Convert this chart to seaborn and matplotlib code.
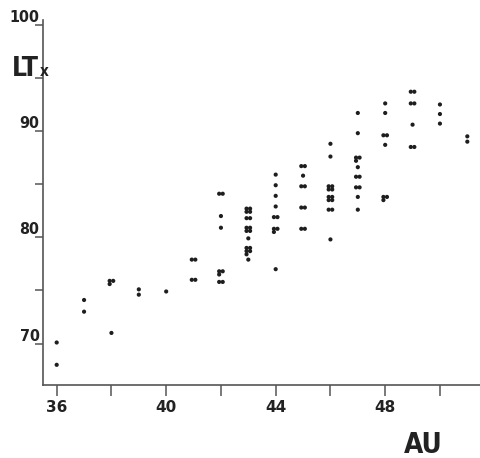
import matplotlib
matplotlib.use('Agg')
import matplotlib.pyplot as plt
import seaborn as sns
import pandas as pd

# AU value, LTx value and number of cases drawn at that spot
au = [36, 36, 37, 37, 38, 38, 39, 39, 40,
      41, 41,
      42, 42, 42, 42, 42,
      43, 43, 43, 43, 43, 43,
      44, 44, 44, 44, 44, 44, 44,
      45, 45, 45, 45, 45,
      46, 46, 46, 46, 46, 46,
      47, 47, 47, 47, 47, 47, 47, 47,
      48, 48, 48, 48, 48,
      49, 49, 49, 49,
      50, 50, 50,
      51, 51]
lt = [70.1, 68.0, 74.1, 73.0, 75.9, 71.0, 75.1, 74.6, 74.9,
      77.9, 76.0,
      84.1, 82.0, 80.9, 76.8, 75.8,
      82.7, 81.8, 80.9, 79.9, 79.0, 77.9,
      85.9, 84.9, 83.9, 82.9, 81.9, 80.8, 77.0,
      86.7, 85.8, 84.8, 82.8, 80.8,
      88.8, 87.6, 84.8, 83.8, 82.6, 79.8,
      91.7, 89.8, 87.5, 86.6, 85.7, 84.7, 83.8, 82.6,
      92.6, 91.7, 89.6, 88.7, 83.8,
      93.7, 92.6, 90.6, 88.5,
      92.5, 91.6, 90.7,
      89.5, 89.0]
n = [1, 1, 1, 1, 3, 1, 1, 1, 1,
     2, 2,
     2, 1, 1, 3, 2,
     4, 2, 4, 1, 5, 1,
     1, 1, 1, 1, 2, 3, 1,
     2, 1, 2, 2, 2,
     1, 1, 4, 4, 2, 1,
     1, 1, 3, 1, 2, 2, 1, 1,
     1, 1, 2, 1, 3,
     2, 2, 1, 2,
     1, 1, 1,
     1, 1]

x_ticks = [36, 38, 40, 42, 44, 46, 48, 50]
x_labels = ['36', '', '40', '', '44', '', '48', '']
y_ticks = [70, 75, 80, 85, 90, 95, 100]
y_labels = ['70', '', '80', '', '90', '', '100']

# spread repeated cases as small clusters of dots
rows = []
for a, l, c in zip(au, lt, n):
    cols = min(c, 2)
    for k in range(c):
        dx = ((k % 2) - (cols - 1) / 2) * 0.13
        dy = -(k // 2) * 0.3
        rows.append((a + dx, l + dy))
df = pd.DataFrame(rows, columns=['AU', 'LTx'])

sns.set_style('white')
ink = '#222222'
narrow = dict(family='DejaVu Sans', fontstretch='condensed', fontweight='bold',
              color=ink)

fig = plt.figure(figsize=(4.81, 4.58), dpi=100)
fig.patch.set_facecolor('white')
ax = fig.add_axes([43 / 481, 1 - 385 / 458, 1 - 43 / 481, (385 - 20) / 458])

sns.scatterplot(data=df, x='AU', y='LTx', ax=ax, s=9, color='#1e1e1e',
                edgecolor='none', legend=False)

ax.set_xlim(35.5, 51.5)
ax.set_ylim(66.1, 100.45)
ax.set_xlabel('')
ax.set_ylabel('')

for side in ['top', 'right']:
    ax.spines[side].set_visible(False)
for side in ['left', 'bottom']:
    ax.spines[side].set_color('#555555')
    ax.spines[side].set_linewidth(1.2)

ax.set_xticks(x_ticks)
ax.set_xticklabels(x_labels, fontsize=11, fontweight='bold', color=ink)
ax.set_yticks(y_ticks)
ax.set_yticklabels(y_labels, fontsize=11.5, **narrow)
ax.tick_params(axis='x', direction='out', length=8, width=1.1, color='#555555',
               pad=3, bottom=True)
ax.tick_params(axis='y', direction='out', length=6, width=1.1, color='#555555',
               pad=-3.5, left=True)
for lab in ax.get_yticklabels():
    lab.set_verticalalignment('bottom')

lt_text = fig.text(12 / 481, 1 - 76 / 458, 'LT', fontsize=19, ha='left',
                   va='baseline', **narrow)
ax.annotate('x', xy=(1, 0), xycoords=lt_text, xytext=(0.5, 2),
            textcoords='offset points', fontsize=11, ha='left', va='bottom',
            annotation_clip=False, **narrow)
fig.text(404 / 481, 1 - 453 / 458, 'AU', fontsize=20, ha='left', va='baseline',
         **narrow)

fig.savefig('out.png', dpi=100, facecolor='white')
